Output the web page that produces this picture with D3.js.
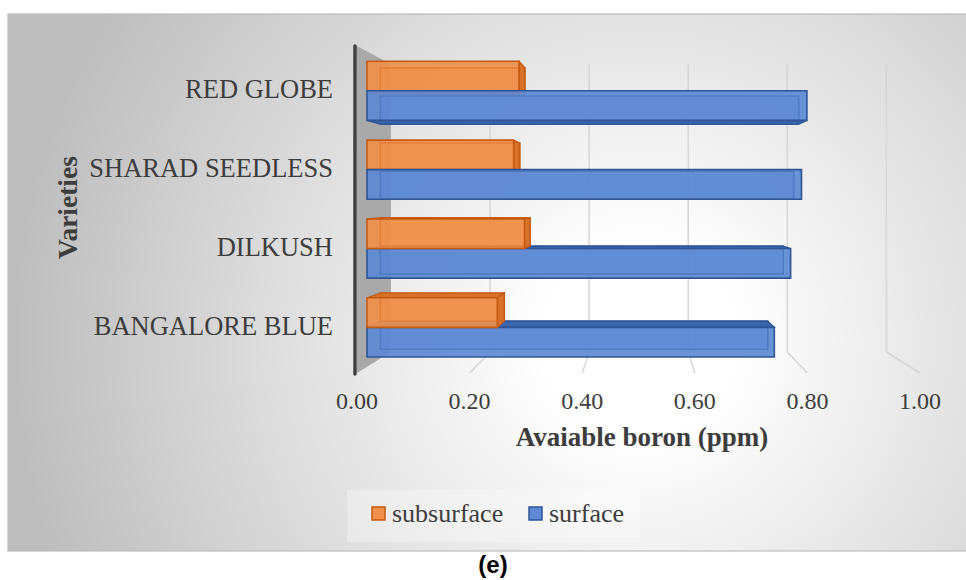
<!DOCTYPE html>
<html><head><meta charset="utf-8">
<script src="https://cdn.jsdelivr.net/npm/d3@7"></script>
<style>html,body{margin:0;padding:0;background:#fff}</style>
</head><body><svg id="c" width="966" height="580"></svg>
<script>
// ---- data ----
const categories = ["RED GLOBE", "SHARAD SEEDLESS", "DILKUSH", "BANGALORE BLUE"];
const seriesNames = ["subsurface", "surface"];
const subsurface = [0.28, 0.27, 0.29, 0.24];
const surface = [0.81, 0.80, 0.78, 0.75];
const tickValues = [0, 0.2, 0.4, 0.6, 0.8, 1.0];
const xTitle = "Avaiable boron (ppm)";
const yTitle = "Varieties";
const caption = "(e)";

// ---- styling ----
const colors = {
  subsurface: {front: "#F1904C", face: "#D6722A", edge: "#C55A11"},
  surface: {front: "#5D89D4", face: "#3C64AC", edge: "#2F5597"}
};
const serif = "'Liberation Serif','Times New Roman',serif";
const VP = {x: 640, y: 198};       // vanishing point of the 3D view
const kBack = 0.88, kBarF = 0.9647, kBarB = 0.918;

const svg = d3.select("#c");
const defs = svg.append("defs");
const rg = defs.append("radialGradient").attr("id", "bg")
  .attr("gradientUnits", "userSpaceOnUse").attr("cx", 640).attr("cy", 340).attr("r", 630);
rg.append("stop").attr("offset", 0).attr("stop-color", "#ffffff");
rg.append("stop").attr("offset", 0.15).attr("stop-color", "#ffffff");
rg.append("stop").attr("offset", 1).attr("stop-color", "#bdbdbd");

// chart area
svg.append("rect").attr("x", 8).attr("y", 14).attr("width", 970).attr("height", 537)
  .attr("fill", "url(#bg)").attr("stroke", "#bcbcbc").attr("stroke-width", 1.2);

const x = d3.scaleLinear().domain([0, 1]).range([357, 920]);
const yBand = d3.scaleBand().domain(categories).range([46, 373]).paddingInner(0.25).paddingOuter(0.125);
const ySub = d3.scaleBand().domain(seriesNames).range([0, yBand.bandwidth()]);
const proj = (X, Y, k) => [VP.x + (X - VP.x) * k, VP.y + (Y - VP.y) * k];

const y0 = 46, y1 = 373;
// side wall
const wall = [[x(0), y0], proj(x(0), y0, kBack), proj(x(0), y1, kBack), [x(0), y1]];
svg.append("polygon").attr("points", wall.map(p => p.join(",")).join(" "))
  .attr("fill", "#a9a9a9");

// gridlines (back wall + floor)
svg.append("g").selectAll("path").data(tickValues.filter(v => v > 0)).join("path")
  .attr("d", v => {
    const a = proj(x(v), y0, kBack), b = proj(x(v), y1, kBack);
    return `M${a}L${b}L${x(v)},${y1}`;
  })
  .attr("fill", "none").attr("stroke", "#d6d6d6").attr("stroke-width", 1.5);

// bars
const bars = [];
categories.forEach((c, i) => {
  bars.push({cat: c, s: "subsurface", v: subsurface[i]});
  bars.push({cat: c, s: "surface", v: surface[i]});
});
bars.forEach(b => {
  b.Y0 = yBand(b.cat) + ySub(b.s);
  b.Y1 = b.Y0 + ySub.bandwidth();
  b.dist = Math.abs((b.Y0 + b.Y1) / 2 - VP.y);
});
bars.sort((a, b) => b.dist - a.dist);

const gBars = svg.append("g");
const pts = arr => arr.map(p => p.join(",")).join(" ");
bars.forEach(b => {
  const col = colors[b.s];
  const X0 = x(0), X1 = x(b.v);
  const F = (X, Y) => proj(X, Y, kBarF), B = (X, Y) => proj(X, Y, kBarB);
  const g = gBars.append("g");
  // back face
  g.append("polygon").attr("points", pts([B(X0, b.Y0), B(X1, b.Y0), B(X1, b.Y1), B(X0, b.Y1)]))
    .attr("fill", col.face).attr("fill-opacity", 0.5).attr("stroke", col.edge).attr("stroke-width", 1.2);
  // top or bottom face
  if (F(X0, b.Y0)[1] > VP.y) {
    g.append("polygon").attr("points", pts([F(X0, b.Y0), F(X1, b.Y0), B(X1, b.Y0), B(X0, b.Y0)]))
      .attr("fill", col.face).attr("stroke", col.edge).attr("stroke-width", 1.2);
  }
  if (F(X0, b.Y1)[1] < VP.y) {
    g.append("polygon").attr("points", pts([F(X0, b.Y1), F(X1, b.Y1), B(X1, b.Y1), B(X0, b.Y1)]))
      .attr("fill", col.face).attr("stroke", col.edge).attr("stroke-width", 1.2);
  }
  // right face
  if (F(X1, b.Y0)[0] < VP.x) {
    g.append("polygon").attr("points", pts([F(X1, b.Y0), F(X1, b.Y1), B(X1, b.Y1), B(X1, b.Y0)]))
      .attr("fill", col.face).attr("stroke", col.edge).attr("stroke-width", 1.2);
  }
  // front face
  g.append("polygon").attr("points", pts([F(X0, b.Y0), F(X1, b.Y0), F(X1, b.Y1), F(X0, b.Y1)]))
    .attr("fill", col.front).attr("fill-opacity", 0.92).attr("stroke", col.edge).attr("stroke-width", 1.6);
  // inner back edges seen through
  g.append("polygon").attr("points", pts([B(X0, b.Y0), B(X1, b.Y0), B(X1, b.Y1), B(X0, b.Y1)]))
    .attr("fill", "none").attr("stroke", col.edge).attr("stroke-opacity", 0.3).attr("stroke-width", 1.2);
});

// vertical axis line
svg.append("line").attr("x1", x(0) - 2).attr("x2", x(0) - 2).attr("y1", y0).attr("y2", y1 + 1)
  .attr("stroke", "#404040").attr("stroke-width", 3.5).attr("stroke-linecap", "round");

// category labels
svg.append("g").selectAll("text").data(categories).join("text")
  .attr("x", 333)
  .attr("y", c => proj(0, yBand(c) + yBand.bandwidth() / 2, kBarF)[1] + 7.5)
  .attr("text-anchor", "end").attr("font-family", serif).attr("font-size", 26.5)
  .attr("fill", "#3d3d3d").text(c => c);

// value axis tick labels
svg.append("g").selectAll("text").data(tickValues).join("text")
  .attr("x", v => x(v)).attr("y", 409).attr("text-anchor", "middle")
  .attr("font-family", serif).attr("font-size", 24).attr("fill", "#3d3d3d")
  .text(d3.format(".2f"));

// axis titles
svg.append("text").attr("x", 642).attr("y", 445.5).attr("text-anchor", "middle")
  .attr("font-family", serif).attr("font-size", 27).attr("font-weight", "bold")
  .attr("fill", "#3d3d3d").text(xTitle);
svg.append("text").attr("transform", "translate(77,207.5) rotate(-90)").attr("text-anchor", "middle")
  .attr("font-family", serif).attr("font-size", 27.5).attr("font-weight", "bold")
  .attr("fill", "#3d3d3d").text(yTitle);

// legend
svg.append("rect").attr("x", 347).attr("y", 490).attr("width", 293).attr("height", 52)
  .attr("fill", "#ffffff").attr("fill-opacity", 0.3);
const lg = svg.append("g").selectAll("g").data(seriesNames).join("g")
  .attr("transform", (d, i) => `translate(${i ? 529 : 372},507)`);
lg.append("rect").attr("width", 13).attr("height", 13)
  .attr("fill", d => colors[d].front).attr("stroke", d => colors[d].edge).attr("stroke-width", 1.5);
lg.append("text").attr("x", 20).attr("y", 14.7).attr("font-family", serif).attr("font-size", 26)
  .attr("fill", "#3d3d3d").text(d => d);

// caption
svg.append("text").attr("x", 493).attr("y", 573).attr("text-anchor", "middle")
  .attr("font-family", "'Liberation Sans',Arial,sans-serif").attr("font-size", 24).attr("font-weight", "bold")
  .attr("fill", "#000").text(caption);
</script></body></html>
